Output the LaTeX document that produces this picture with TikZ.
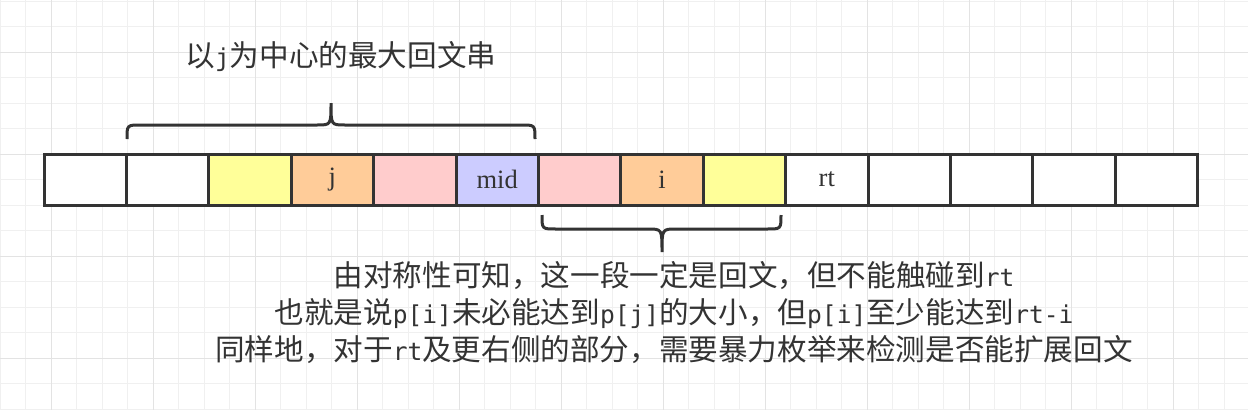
\documentclass[tikz,border=0pt]{standalone}
\usepackage{fontspec}
\setmainfont{Liberation Serif}
\newfontfamily\cjk{Noto Sans CJK SC}
\newfontfamily\mn{DejaVu Sans Mono}[Scale=0.83]
\newcommand{\code}[1]{{\mn #1}}
\usetikzlibrary{positioning}
\definecolor{ink}{HTML}{333333}
\definecolor{yel}{HTML}{FFFF99}
\definecolor{ora}{HTML}{FFCC99}
\definecolor{pnk}{HTML}{FFCCCC}
\definecolor{lav}{HTML}{CCCCFF}

\begin{document}
\begin{tikzpicture}[x=1pt, y=-1pt,
  minor/.style={draw=black!6, line width=1pt},
  major/.style={draw=black!11, line width=1pt},
  cell/.style={draw=ink, line width=3pt, minimum width=82.4pt, minimum height=51pt, inner sep=0pt, outer sep=0pt, text=ink, font=\fontsize{26.5}{30}\selectfont},
  brace/.style={draw=ink, line width=3pt},
  note/.style={text=ink, align=center, font=\cjk\fontsize{29.6}{37}\selectfont}]
\useasboundingbox[fill=white] (0,0) rectangle (1248,410);
% background grid
\foreach \gx in {0,25.5,...,1248} \draw[minor] (\gx,0) -- (\gx,410);
\foreach \gy in {1,26.5,...,410} \draw[minor] (0,\gy) -- (1248,\gy);
\foreach \gx in {51,153,...,1248} \draw[major] (\gx,0) -- (\gx,410);
\foreach \gy in {52,154,...,410} \draw[major] (0,\gy) -- (1248,\gy);
% the array
\coordinate (c0) at (44,179.5);
\foreach \f/\t [count=\n, remember=\n as \p (initially 0)] in {white/,white/,yel/,ora/j,pnk/,lav/mid,pnk/,ora/i,yel/,white/rt,white/,white/,white/,white/}
  \node[cell, fill=\f, right=0pt of c\p] (c\n) {\t};
% braces
\draw[brace] (127,139) .. controls (127,125) .. (141,125) -- (317,125) .. controls (331,125) .. (331,103) .. controls (331,125) .. (345,125) -- (521,125) .. controls (535,125) .. (535,139);
\draw[brace] (542,215) .. controls (542,229) .. (556,229) -- (648,229) .. controls (662,229) .. (662,252) .. controls (662,229) .. (676,229) -- (767,229) .. controls (781,229) .. (781,215);
% texts
\node[note] (title) at (341,57) {以\code{j}为中心的最大回文串};
\node[note] (expl) at (674,313) {由对称性可知，这一段一定是回文，但不能触碰到\code{rt}\\
  也就是说\code{p[i]}未必能达到\code{p[j]}的大小，但\code{p[i]}至少能达到\code{rt-i}\\
  同样地，对于\code{rt}及更右侧的部分，需要暴力枚举来检测是否能扩展回文};
\end{tikzpicture}
\end{document}
